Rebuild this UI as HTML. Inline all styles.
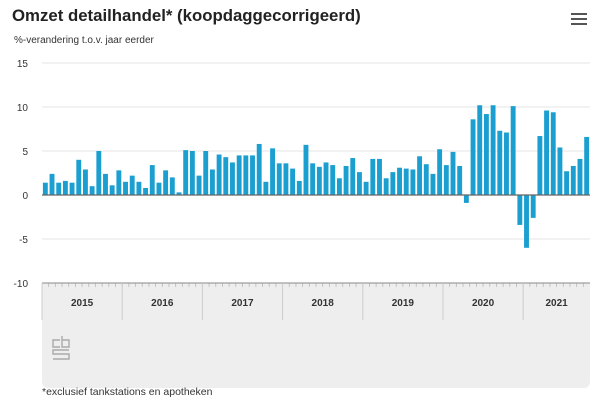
<!DOCTYPE html>
<html><head><meta charset="utf-8"><style>
body{margin:0;width:600px;height:404px;background:#fff;font-family:"Liberation Sans",sans-serif;overflow:hidden;position:relative}
#title{position:absolute;left:12px;top:6px;font-size:16.8px;font-weight:bold;color:#222}
#sub{position:absolute;left:14px;top:35px;font-size:10px;color:#333}
#foot{position:absolute;left:42px;top:386px;font-size:10.5px;color:#333}
#menu{position:absolute;left:571px;top:13px;width:16px;height:14px}
#menu i{display:block;height:2px;background:#555;margin-bottom:3px}
</style></head><body>
<div id="title">Omzet detailhandel* (koopdaggecorrigeerd)</div>
<div id="sub">%-verandering t.o.v. jaar eerder</div>
<div id="menu"><i></i><i></i><i></i></div>
<svg id="c" width="600" height="404" style="position:absolute;left:0;top:0"></svg>
<div id="foot">*exclusief tankstations en apotheken</div>
<script>
const years=["2015","2016","2017","2018","2019","2020","2021"];
const yTicks=[15,10,5,0,-5,-10];
const values=[1.4,2.4,1.4,1.6,1.4,4.0,2.9,1.0,5.0,2.4,1.1,2.8,
1.5,2.2,1.5,0.8,3.4,1.4,2.8,2.0,0.3,5.1,5.0,2.2,
5.0,2.9,4.6,4.3,3.7,4.5,4.5,4.5,5.8,1.5,5.3,3.6,
3.6,3.0,1.6,5.7,3.6,3.2,3.7,3.4,1.9,3.3,4.2,2.6,
1.5,4.1,4.1,1.9,2.6,3.1,3.0,2.9,4.4,3.5,2.4,5.2,
3.4,4.9,3.3,-0.9,8.6,10.2,9.2,10.2,7.3,7.1,10.1,-3.4,
-6.0,-2.6,6.7,9.6,9.4,5.4,2.7,3.3,4.1,6.6];
const NS="http://www.w3.org/2000/svg",svg=document.getElementById('c');
const X0=42,X1=590,mw=(X1-X0)/values.length;
const y=v=>195-v*8.8;
const x=i=>X0+i*mw;
function mk(t,a,p){const e=document.createElementNS(NS,t);for(const k in a)e.setAttribute(k,a[k]);(p||svg).appendChild(e);return e;}
const box=mk('path',{d:`M${X0} 283H${X1}V382a6 6 0 0 1-6 6H${X0+6}a6 6 0 0 1-6-6Z`,fill:'#eeeeee'});


yTicks.forEach(t=>{
 if(t!==0&&t!==-10){const g=mk('line',{x1:X0,x2:X1,y1:y(t),y2:y(t),stroke:'#e4e4e4','stroke-width':1});
 
 }
 const l=mk('text',{x:28,y:y(t)+4,'text-anchor':'end','font-size':10,fill:'#333'});l.textContent=t;
 
 
});
values.forEach((v,i)=>{
 const r=mk('rect',{x:x(i)+0.9,y:Math.min(y(v),y(0)),width:mw-1.8,height:Math.abs(y(v)-y(0)),fill:'#1a9fd0'});
 
 
 mk('line',{x1:x(i),x2:x(i),y1:283,y2:287,stroke:'#bbb','stroke-width':0.8});
});
const z=mk('line',{x1:X0,x2:X1,y1:y(0),y2:y(0),stroke:'#666','stroke-width':1.2});


mk('line',{x1:X0,x2:X1,y1:283,y2:283,stroke:'#888','stroke-width':1});
years.forEach((yr,k)=>{
 const s=x(k*12),e=Math.min(x(k*12+12),X1);
 mk('line',{x1:s,x2:s,y1:283,y2:320,stroke:'#ccc','stroke-width':1});
 const t=mk('text',{x:(s+e)/2,y:306,'text-anchor':'middle','font-size':10,'font-weight':'bold',fill:'#333'});t.textContent=yr;
 
 
});
const logo=mk('g',{fill:'none',stroke:'#aaa','stroke-width':1.4});


mk('path',{d:'M60 340h-7v7h7M62 336v11h7v-7h-7M69 350h-16v4h16v5h-16'},logo);
</script>
</body></html>
